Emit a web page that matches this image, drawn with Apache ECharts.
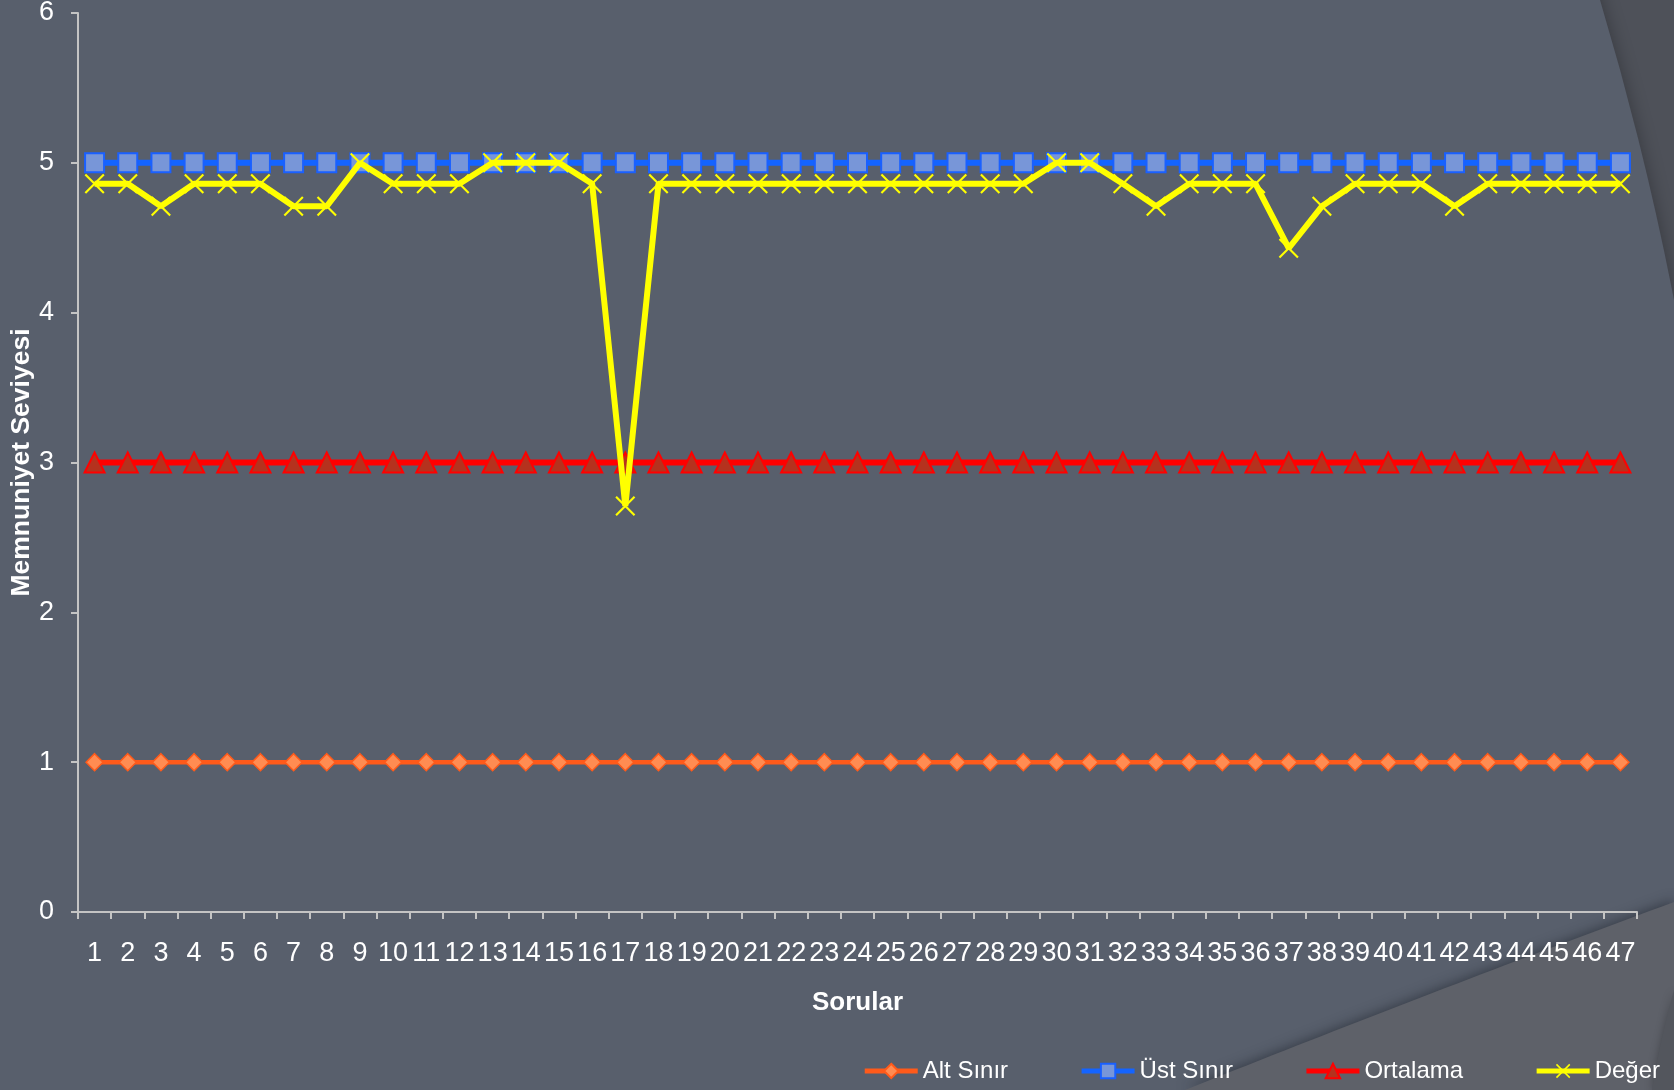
<!DOCTYPE html>
<html>
<head>
<meta charset="utf-8">
<title>Memnuniyet Seviyesi</title>
<script src="https://cdn.jsdelivr.net/npm/echarts@6/dist/echarts.min.js"></script>
<style>
  html, body { margin: 0; padding: 0; background: #585f6c; }
  #main { width: 1674px; height: 1090px; }
</style>
</head>
<body>
<div id="main"></div>
<script>
// ==========
// = veriler =
var sorular = ['1','2','3','4','5','6','7','8','9','10',
  '11','12','13','14','15','16','17','18','19','20',
  '21','22','23','24','25','26','27','28','29','30',
  '31','32','33','34','35','36','37','38','39','40',
  '41','42','43','44','45','46','47'];

var altSinir = [1,1,1,1,1,1,1,1,1,1,
  1,1,1,1,1,1,1,1,1,1,
  1,1,1,1,1,1,1,1,1,1,
  1,1,1,1,1,1,1,1,1,1,
  1,1,1,1,1,1,1];

var ustSinir = [5,5,5,5,5,5,5,5,5,5,
  5,5,5,5,5,5,5,5,5,5,
  5,5,5,5,5,5,5,5,5,5,
  5,5,5,5,5,5,5,5,5,5,
  5,5,5,5,5,5,5];

var ortalama = [3,3,3,3,3,3,3,3,3,3,
  3,3,3,3,3,3,3,3,3,3,
  3,3,3,3,3,3,3,3,3,3,
  3,3,3,3,3,3,3,3,3,3,
  3,3,3,3,3,3,3];

var deger = [4.86, 4.86, 4.71, 4.86, 4.86, 4.86, 4.71, 4.71, 5, 4.86,
  4.86, 4.86, 5, 5, 5, 4.86, 2.71, 4.86, 4.86, 4.86,
  4.86, 4.86, 4.86, 4.86, 4.86, 4.86, 4.86, 4.86, 4.86, 5,
  5, 4.86, 4.71, 4.86, 4.86, 4.86, 4.43, 4.71, 4.86, 4.86,
  4.86, 4.71, 4.86, 4.86, 4.86, 4.86, 4.86];

var yTicks = [0, 6, 1]; // min, max, aralik

// X isaretci (carpi)
var xSymbol = 'path://M0,1.5 L1.5,0 L20,18.5 L18.5,20 Z M18.5,0 L20,1.5 L1.5,20 L0,18.5 Z';

var font = 'Liberation Sans, Arial, sans-serif';

// arka plandaki egri kenarli sekil (ikinci derece bezier -> nokta listesi)
function egriSekil(p0, c, p1, kose) {
  var pts = [];
  for (var i = 0; i <= 40; i++) {
    var t = i / 40, u = 1 - t;
    pts.push([u * u * p0[0] + 2 * u * t * c[0] + t * t * p1[0],
              u * u * p0[1] + 2 * u * t * c[1] + t * t * p1[1]]);
  }
  return pts.concat(kose);
}

var myChart = echarts.init(document.getElementById('main'));

var option = {
  animation: false,
  backgroundColor: '#4e5159',
  textStyle: { fontFamily: font },
  graphic: [
    {
      type: 'circle', z: -30, silent: true,
      shape: { cx: -1403, cy: 900, r: 3135 },
      style: { fill: '#585f6c', shadowBlur: 18, shadowColor: 'rgba(0,0,0,0.3)' }
    },
    {
      type: 'polygon', z: -20, silent: true,
      shape: { points: egriSekil([1185, 1090], [1435, 990], [1674, 902], [[1674, 1090]]) },
      style: { fill: '#5e6169', shadowBlur: 12, shadowOffsetY: -2, shadowColor: 'rgba(30,34,44,0.55)' }
    },
    {
      type: 'polygon', z: -15, silent: true,
      shape: { points: egriSekil([1674, 990], [1660, 1040], [1652, 1090], [[1674, 1090]]) },
      style: { fill: '#53565d', shadowBlur: 8, shadowColor: 'rgba(0,0,0,0.25)' }
    }
  ],
  grid: { left: 78, right: 37, top: 13, bottom: 178, outerBoundsMode: 'none' },
  legend: {
    right: 9,
    top: 1054,
    itemWidth: 53,
    itemHeight: 18,
    itemGap: 71,
    lineStyle: { width: 5 },
    textStyle: { color: '#ffffff', fontSize: 24, fontFamily: font },
    data: ['Alt Sınır', 'Üst Sınır', 'Ortalama', 'Değer']
  },
  xAxis: {
    type: 'category',
    data: sorular,
    boundaryGap: true,
    name: 'Sorular',
    nameLocation: 'middle',
    nameGap: 78,
    nameMoveOverlap: false,
    nameTextStyle: { color: '#ffffff', fontSize: 26, fontWeight: 'bold', fontFamily: font },
    axisLine: { lineStyle: { color: '#c4c4c4', width: 2 } },
    axisTick: { show: true, length: 7, interval: 0, lineStyle: { color: '#c4c4c4', width: 2 } },
    axisLabel: { interval: 0, color: '#ffffff', fontSize: 27, margin: 28, fontFamily: font },
    splitLine: { show: false }
  },
  yAxis: {
    type: 'value',
    min: yTicks[0],
    max: yTicks[1],
    interval: yTicks[2],
    name: 'Memnuniyet Seviyesi',
    nameLocation: 'middle',
    nameGap: 43,
    nameMoveOverlap: false,
    nameTextStyle: { color: '#ffffff', fontSize: 26.5, fontWeight: 'bold', fontFamily: font },
    axisLine: { show: true, lineStyle: { color: '#c4c4c4', width: 2 } },
    axisTick: { show: true, length: 7, lineStyle: { color: '#c4c4c4', width: 2 } },
    axisLabel: { color: '#ffffff', fontSize: 27, margin: 24, fontFamily: font },
    splitLine: { show: false }
  },
  series: [
    {
      name: 'Alt Sınır',
      type: 'line',
      data: altSinir,
      symbol: 'diamond',
      symbolSize: 17,
      lineStyle: { color: '#ff5a1a', width: 4.5 },
      itemStyle: { color: '#ff8c52', borderColor: '#ff5a1a', borderWidth: 1.5 }
    },
    {
      name: 'Üst Sınır',
      type: 'line',
      data: ustSinir,
      symbol: 'rect',
      symbolSize: 19,
      lineStyle: { color: '#1464ff', width: 6 },
      itemStyle: { color: '#7896d8', borderColor: '#1a60ff', borderWidth: 2 }
    },
    {
      name: 'Ortalama',
      type: 'line',
      data: ortalama,
      symbol: 'triangle',
      symbolSize: 20,
      lineStyle: { color: '#ff0000', width: 6 },
      itemStyle: { color: '#b5321e', borderColor: '#ff0000', borderWidth: 2 }
    },
    {
      // sari cizgi kare isaretlerin ustunde kalsin diye ayri katman
      name: 'Değer',
      type: 'line',
      zlevel: 1,
      z: 5,
      data: deger,
      symbol: xSymbol,
      symbolSize: 20,
      lineStyle: { color: '#ffff00', width: 6 },
      itemStyle: { color: '#ffff00', borderWidth: 0 }
    }
  ]
};

myChart.setOption(option);
// ==========
</script>
</body>
</html>
